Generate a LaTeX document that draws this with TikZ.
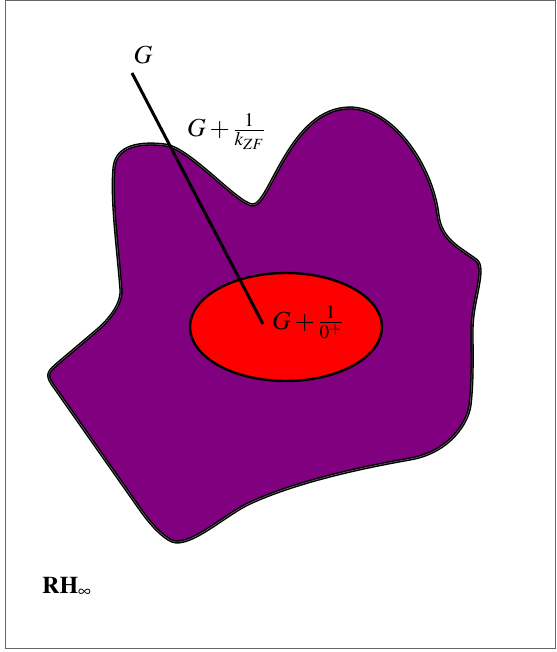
\documentclass[tikz,border=0pt]{standalone}
\usepackage{amsmath}
\usepackage{amssymb}
\usepackage{mathptmx}
\usepackage{tikz}
\usetikzlibrary{shapes.geometric, positioning, backgrounds}
\definecolor{setpurple}{RGB}{128,0,128}
\definecolor{setred}{RGB}{255,0,0}
\tikzset{
    frame/.style={draw=black!60, line width=1pt},
    outerset/.style={fill=setpurple, draw=black, line width=1.4pt, double=black!55, double distance=0.5pt},
    innerset/.style={ellipse, fill=setred, draw=black, line width=2.4pt, minimum width=192pt, minimum height=108pt, inner sep=0pt},
    setlabel/.style={inner sep=0pt, anchor=base west, font=\fontsize{26}{30}\selectfont},
    gpath/.style={line width=3pt, draw=black}
}

\begin{document}
\begin{tikzpicture}[x=1pt, y=-1pt]

        \useasboundingbox (0,0) rectangle (556,652);
        \draw [frame] (5.5,0.5) rectangle (555.5,648.5);

        % Insieme esterno
        \path [outerset] (121,290)
            .. controls (118,250) and (111,200) .. (114,168)
            .. controls (115.5,150) and (132,141) .. (165,145)
            .. controls (190,148) and (238,205) .. (253,205)
            .. controls (270,205) and (290,108) .. (350,108)
            .. controls (392,108) and (432,165) .. (438,215)
            .. controls (441,240) and (460,248) .. (476,260)
            .. controls (487,268) and (472,300) .. (472,330)
            .. controls (472,350) and (473,380) .. (470,405)
            .. controls (468,422) and (450,452) .. (410,459)
            .. controls (370,466) and (300,480) .. (250,503)
            .. controls (225,514.5) and (190,548) .. (172,541)
            .. controls (163,537) and (152,526) .. (140,509)
            -- (55,388)
            .. controls (46,376) and (47,373) .. (56,365)
            -- (95,332)
            .. controls (112,318) and (122,302) .. (121,290) -- cycle;

        % Insieme interno
        \node (inner) [innerset] at (286,327) {};

        % Etichette
        \node (glabel) [font=\fontsize{26}{30}\selectfont] at (143,55) {$G$};
        \node (kzf) [setlabel] at (187,137) {$G+\frac{1}{k_{ZF}}$};
        \node (zero) [setlabel] at (272,329) {$G+\frac{1}{0^+}$};
        \node (space) [setlabel, font=\fontsize{24}{28}\selectfont] at (42,593) {$\mathbf{RH}_\infty$};

        % Cammino da G
        \coordinate (pstart) at (132,73);
        \coordinate (pend) at (263,324);
        \draw [gpath] (pstart) -- (pend);

    \end{tikzpicture}
\end{document}
